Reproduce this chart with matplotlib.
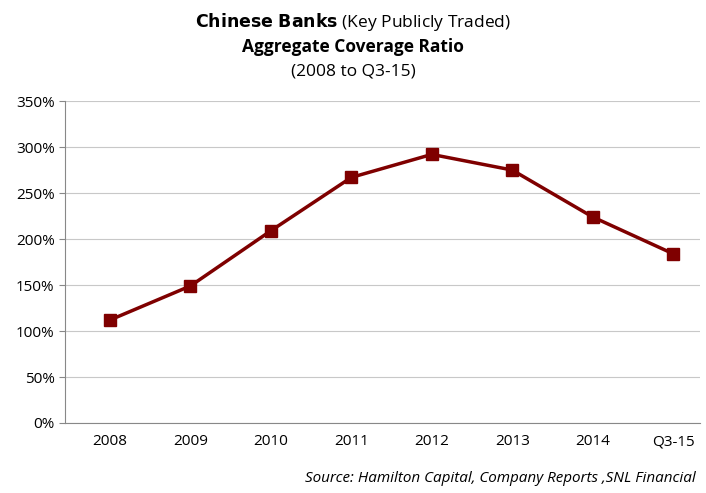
import matplotlib
matplotlib.use("Agg")
import matplotlib.pyplot as plt
from matplotlib.ticker import FuncFormatter

categories = ["2008", "2009", "2010", "2011", "2012", "2013", "2014", "Q3-15"]
coverage = [112, 149, 209, 267, 292, 275, 224, 184]

plt.rcParams["font.family"] = "Open Sans"
fig = plt.figure(figsize=(7.06, 4.93), dpi=100)
ax = fig.add_axes([0.092, 0.142, 0.899, 0.653])
x = range(len(categories))
ax.plot(x, coverage, color="#7f0000", lw=2.5, marker="s", ms=8, mfc="#7f0000", mec="#7f0000")
ax.set_xlim(-0.56, 7.33)
ax.set_ylim(0, 350)
ax.set_yticks(range(0, 351, 50))
ax.yaxis.set_major_formatter(FuncFormatter(lambda v, p: f"{int(v)}%"))
ax.set_xticks(list(x))
ax.set_xticklabels(categories)
ax.grid(axis="y", color="#c8c8c8", lw=0.8)
ax.set_axisbelow(True)
for s in ["top", "right"]:
    ax.spines[s].set_visible(False)
ax.spines["left"].set_color("#888888")
ax.spines["bottom"].set_color("#888888")
ax.tick_params(axis="both", labelsize=11, color="#888888", length=4)
ax.tick_params(axis="x", length=0, pad=8)

fig.text(0.5, 0.955, "$\\bf{Chinese\\ Banks}$ (Key Publicly Traded)", ha="center", va="center", fontsize=12.5)
fig.text(0.5, 0.905, "Aggregate Coverage Ratio", ha="center", va="center", fontsize=12.5, fontweight="bold")
fig.text(0.5, 0.855, "(2008 to Q3-15)", ha="center", va="center", fontsize=12.5)
fig.text(0.985, 0.03, "Source: Hamilton Capital, Company Reports ,SNL Financial", ha="right", va="center", fontsize=11, style="italic")
fig.savefig("out.png", dpi=100)
